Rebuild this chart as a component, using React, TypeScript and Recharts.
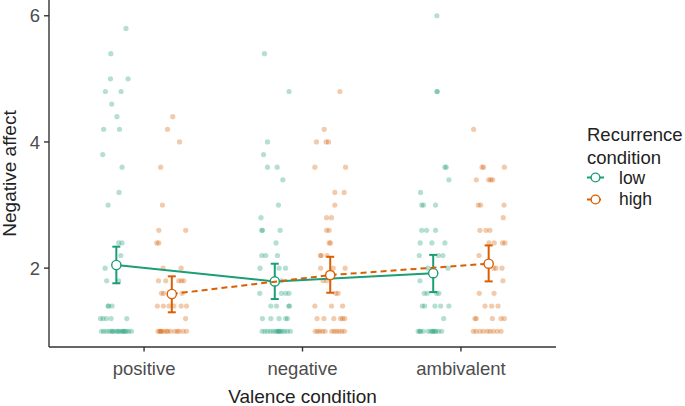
import React from 'react';
import { ScatterChart, Scatter, XAxis, YAxis, ErrorBar } from 'recharts';

const categories = ['positive', 'negative', 'ambivalent'];
const yTicks = [2, 4, 6];

const lowMean = [2.05, 1.79, 1.92];
const lowLower = [1.76, 1.51, 1.62];
const lowUpper = [2.34, 2.07, 2.21];
const highMean = [1.59, 1.89, 2.07];
const highLower = [1.30, 1.61, 1.79];
const highUpper = [1.87, 2.18, 2.36];

const lowPositive: [number, number][] = [
  [0.886, 5.8], [0.790, 5.4], [0.788, 5.0], [0.899, 5.0], [0.756, 4.8], [0.855, 4.8], [0.796, 4.6],
  [0.829, 4.4], [0.745, 4.2], [0.845, 4.2], [0.739, 3.8], [0.861, 3.6], [0.842, 3.2], [0.773, 3.0],
  [0.840, 2.4], [0.861, 2.4], [0.853, 2.2], [0.754, 2.0], [0.764, 1.8], [0.840, 1.8], [0.773, 1.4],
  [0.776, 1.4], [0.798, 1.4], [0.725, 1.2], [0.741, 1.2], [0.762, 1.2], [0.792, 1.2], [0.891, 1.2],
  [0.731, 1.0], [0.745, 1.0], [0.762, 1.0], [0.779, 1.0], [0.794, 1.0], [0.800, 1.0], [0.809, 1.0],
  [0.826, 1.0], [0.835, 1.0], [0.842, 1.0], [0.857, 1.0], [0.865, 1.0], [0.872, 1.0], [0.880, 1.0],
  [0.889, 1.0], [0.903, 1.0], [0.920, 1.0],
];
const highPositive: [number, number][] = [
  [1.181, 4.4], [1.148, 4.2], [1.224, 4.0], [1.105, 3.6], [1.116, 3.0], [1.093, 2.6], [1.263, 2.6],
  [1.080, 2.4], [1.093, 2.4], [1.120, 2.0], [1.234, 2.0], [1.091, 1.8], [1.137, 1.8], [1.219, 1.8],
  [1.236, 1.8], [1.251, 1.8], [1.110, 1.6], [1.124, 1.6], [1.240, 1.6], [1.084, 1.4], [1.122, 1.4],
  [1.158, 1.4], [1.188, 1.4], [1.234, 1.4], [1.268, 1.4], [1.262, 1.2], [1.088, 1.0], [1.099, 1.0],
  [1.105, 1.0], [1.110, 1.0], [1.124, 1.0], [1.141, 1.0], [1.150, 1.0], [1.167, 1.0], [1.194, 1.0],
  [1.210, 1.0], [1.221, 1.0], [1.246, 1.0], [1.268, 1.0],
];
const lowNegative: [number, number][] = [
  [1.760, 5.4], [1.915, 4.8], [1.779, 4.0], [1.754, 3.8], [1.779, 3.6], [1.840, 3.6], [1.876, 3.4],
  [1.848, 3.0], [1.738, 2.8], [1.743, 2.6], [1.748, 2.6], [1.859, 2.6], [1.833, 2.4], [1.743, 2.2],
  [1.768, 2.2], [1.842, 2.2], [1.732, 2.0], [1.852, 2.0], [1.893, 2.0], [1.867, 1.8], [1.730, 1.6],
  [1.867, 1.6], [1.894, 1.6], [1.915, 1.6], [1.800, 1.4], [1.836, 1.4], [1.913, 1.4], [1.918, 1.4],
  [1.747, 1.2], [1.800, 1.2], [1.852, 1.2], [1.894, 1.2], [1.905, 1.2], [1.745, 1.0], [1.762, 1.0],
  [1.779, 1.0], [1.798, 1.0], [1.814, 1.0], [1.831, 1.0], [1.840, 1.0], [1.848, 1.0], [1.855, 1.0],
  [1.861, 1.0], [1.874, 1.0], [1.888, 1.0], [1.905, 1.0], [1.924, 1.0],
];
const highNegative: [number, number][] = [
  [2.236, 4.8], [2.137, 4.2], [2.088, 4.0], [2.149, 4.0], [2.164, 4.0], [2.078, 3.6], [2.272, 3.6],
  [2.204, 3.2], [2.263, 3.2], [2.204, 3.0], [2.152, 2.8], [2.183, 2.8], [2.152, 2.6], [2.168, 2.6],
  [2.168, 2.4], [2.177, 2.4], [2.114, 2.2], [2.118, 2.2], [2.155, 2.2], [2.114, 2.0], [2.194, 2.0],
  [2.269, 2.0], [2.130, 1.8], [2.152, 1.8], [2.210, 1.6], [2.225, 1.6], [2.078, 1.4], [2.183, 1.4],
  [2.253, 1.4], [2.092, 1.2], [2.135, 1.2], [2.198, 1.2], [2.240, 1.2], [2.253, 1.2], [2.267, 1.2],
  [2.080, 1.0], [2.095, 1.0], [2.109, 1.0], [2.126, 1.0], [2.143, 1.0], [2.185, 1.0], [2.200, 1.0],
  [2.215, 1.0], [2.231, 1.0], [2.248, 1.0], [2.265, 1.0],
];
const lowAmbivalent: [number, number][] = [
  [2.848, 6.0], [2.848, 4.8], [2.851, 4.8], [2.899, 3.6], [2.907, 3.6], [2.924, 3.4], [2.745, 3.2],
  [2.752, 3.0], [2.764, 3.0], [2.840, 3.0], [2.752, 2.6], [2.783, 2.6], [2.840, 2.6], [2.743, 2.4],
  [2.817, 2.4], [2.899, 2.4], [2.737, 2.2], [2.857, 2.2], [2.886, 2.2], [2.793, 2.0], [2.918, 2.0],
  [2.741, 1.8], [2.768, 1.6], [2.787, 1.6], [2.846, 1.6], [2.861, 1.6], [2.756, 1.4], [2.771, 1.4],
  [2.836, 1.4], [2.872, 1.4], [2.924, 1.4], [2.891, 1.2], [2.730, 1.0], [2.740, 1.0], [2.745, 1.0],
  [2.762, 1.0], [2.793, 1.0], [2.810, 1.0], [2.820, 1.0], [2.825, 1.0], [2.835, 1.0], [2.842, 1.0],
  [2.859, 1.0], [2.878, 1.0],
];
const highAmbivalent: [number, number][] = [
  [3.080, 4.2], [3.133, 3.6], [3.143, 3.6], [3.274, 3.6], [3.097, 3.4], [3.175, 3.4], [3.188, 3.4],
  [3.200, 3.4], [3.109, 3.0], [3.124, 3.0], [3.272, 3.0], [3.267, 2.8], [3.120, 2.6], [3.158, 2.6],
  [3.183, 2.6], [3.177, 2.4], [3.210, 2.4], [3.263, 2.4], [3.278, 2.4], [3.114, 2.2], [3.259, 2.0],
  [3.207, 2.0], [3.221, 2.0], [3.265, 1.8], [3.116, 1.6], [3.209, 1.6], [3.152, 1.4], [3.194, 1.4],
  [3.234, 1.4], [3.088, 1.2], [3.097, 1.2], [3.198, 1.2], [3.253, 1.2], [3.274, 1.2], [3.078, 1.0],
  [3.095, 1.0], [3.120, 1.0], [3.141, 1.0], [3.166, 1.0], [3.183, 1.0], [3.204, 1.0], [3.229, 1.0],
  [3.253, 1.0],
];

const GREEN = '#1b9e77';
const ORANGE = '#d95f02';
const AXIS = '#333333';
const FONT = '"Liberation Sans", Arial, Helvetica, sans-serif';
const DODGE = 0.175;

const toPts = (arr: [number, number][]) => arr.map(([x, y]) => ({ x, y }));
const lowRaw = [...toPts(lowPositive), ...toPts(lowNegative), ...toPts(lowAmbivalent)];
const highRaw = [...toPts(highPositive), ...toPts(highNegative), ...toPts(highAmbivalent)];

const lowMeans = categories.map((_, i) => ({
  x: i + 1 - DODGE,
  y: lowMean[i],
  err: [lowMean[i] - lowLower[i], lowUpper[i] - lowMean[i]],
}));
const highMeans = categories.map((_, i) => ({
  x: i + 1 + DODGE,
  y: highMean[i],
  err: [highMean[i] - highLower[i], highUpper[i] - highMean[i]],
}));

const rawShape = (color: string) => (props: any) => (
  <circle cx={props.cx} cy={props.cy} r={2.6} fill={color} fillOpacity={0.33} stroke="none" />
);
const meanShape = (color: string) => (props: any) => (
  <circle cx={props.cx} cy={props.cy} r={4.6} fill="#ffffff" stroke={color} strokeWidth={1.4} />
);

export default function App() {
  return (
    <div style={{ position: 'absolute', left: 0, top: 0, width: 685, height: 406, background: '#fff', fontFamily: FONT }}>
      <ScatterChart width={685} height={406} margin={{ top: 0, right: 129, bottom: 0, left: 0 }}>
        <XAxis
          type="number"
          dataKey="x"
          domain={[0.4, 3.6]}
          ticks={[1, 2, 3]}
          tickFormatter={(v: number) => categories[v - 1] ?? ''}
          allowDataOverflow
          height={59}
          tickSize={4.5}
          tickMargin={10}
          axisLine={{ stroke: AXIS, strokeWidth: 1.4 }}
          tickLine={{ stroke: AXIS, strokeWidth: 1.4 }}
          tick={{ fill: '#4d4d4d', fontSize: 18.5, fontFamily: FONT }}
          label={{ value: 'Valence condition', position: 'insideBottom', offset: 3, fill: '#222', fontSize: 19, fontFamily: FONT }}
        />
        <YAxis
          type="number"
          dataKey="y"
          domain={[0.75, 6.25]}
          ticks={yTicks}
          allowDataOverflow
          width={49}
          tickSize={5}
          tickMargin={4}
          axisLine={{ stroke: AXIS, strokeWidth: 1.4 }}
          tickLine={{ stroke: AXIS, strokeWidth: 1.4 }}
          tick={{ fill: '#4d4d4d', fontSize: 18.5, fontFamily: FONT }}
          label={{ value: 'Negative affect', angle: -90, position: 'insideLeft', offset: 9, fill: '#222', fontSize: 19, fontFamily: FONT, style: { textAnchor: 'middle' } }}
        />
        <Scatter data={lowRaw} shape={rawShape(GREEN)} isAnimationActive={false} />
        <Scatter data={highRaw} shape={rawShape(ORANGE)} isAnimationActive={false} />
        <Scatter
          data={lowMeans}
          shape={meanShape(GREEN)}
          line={{ stroke: GREEN, strokeWidth: 2 }}
          lineType="joint"
          isAnimationActive={false}
        >
          <ErrorBar dataKey="err" direction="y" width={4} strokeWidth={2} stroke={GREEN} isAnimationActive={false} />
        </Scatter>
        <Scatter
          data={highMeans}
          shape={meanShape(ORANGE)}
          line={{ stroke: ORANGE, strokeWidth: 2, strokeDasharray: '6 4' }}
          lineType="joint"
          isAnimationActive={false}
        >
          <ErrorBar dataKey="err" direction="y" width={4} strokeWidth={2} stroke={ORANGE} isAnimationActive={false} />
        </Scatter>
      </ScatterChart>
      <svg width={685} height={406} style={{ position: 'absolute', left: 0, top: 0, pointerEvents: 'none' }}>
        <g fontFamily={FONT}>
          <text x={587} y={141} fontSize={18.5} fill="#222">Recurrence</text>
          <text x={587} y={164} fontSize={18.5} fill="#222">condition</text>
          <line x1={587} y1={177.5} x2={604} y2={177.5} stroke={GREEN} strokeWidth={2} />
          <circle cx={595.5} cy={177.5} r={4.4} fill="#fff" stroke={GREEN} strokeWidth={1.4} />
          <text x={619} y={184} fontSize={17.5} fill="#222">low</text>
          <line x1={587} y1={199.5} x2={604} y2={199.5} stroke={ORANGE} strokeWidth={2} strokeDasharray="4 6" />
          <circle cx={595.5} cy={199.5} r={4.4} fill="#fff" stroke={ORANGE} strokeWidth={1.4} />
          <text x={619} y={205} fontSize={17.5} fill="#222">high</text>
        </g>
      </svg>
    </div>
  );
}
